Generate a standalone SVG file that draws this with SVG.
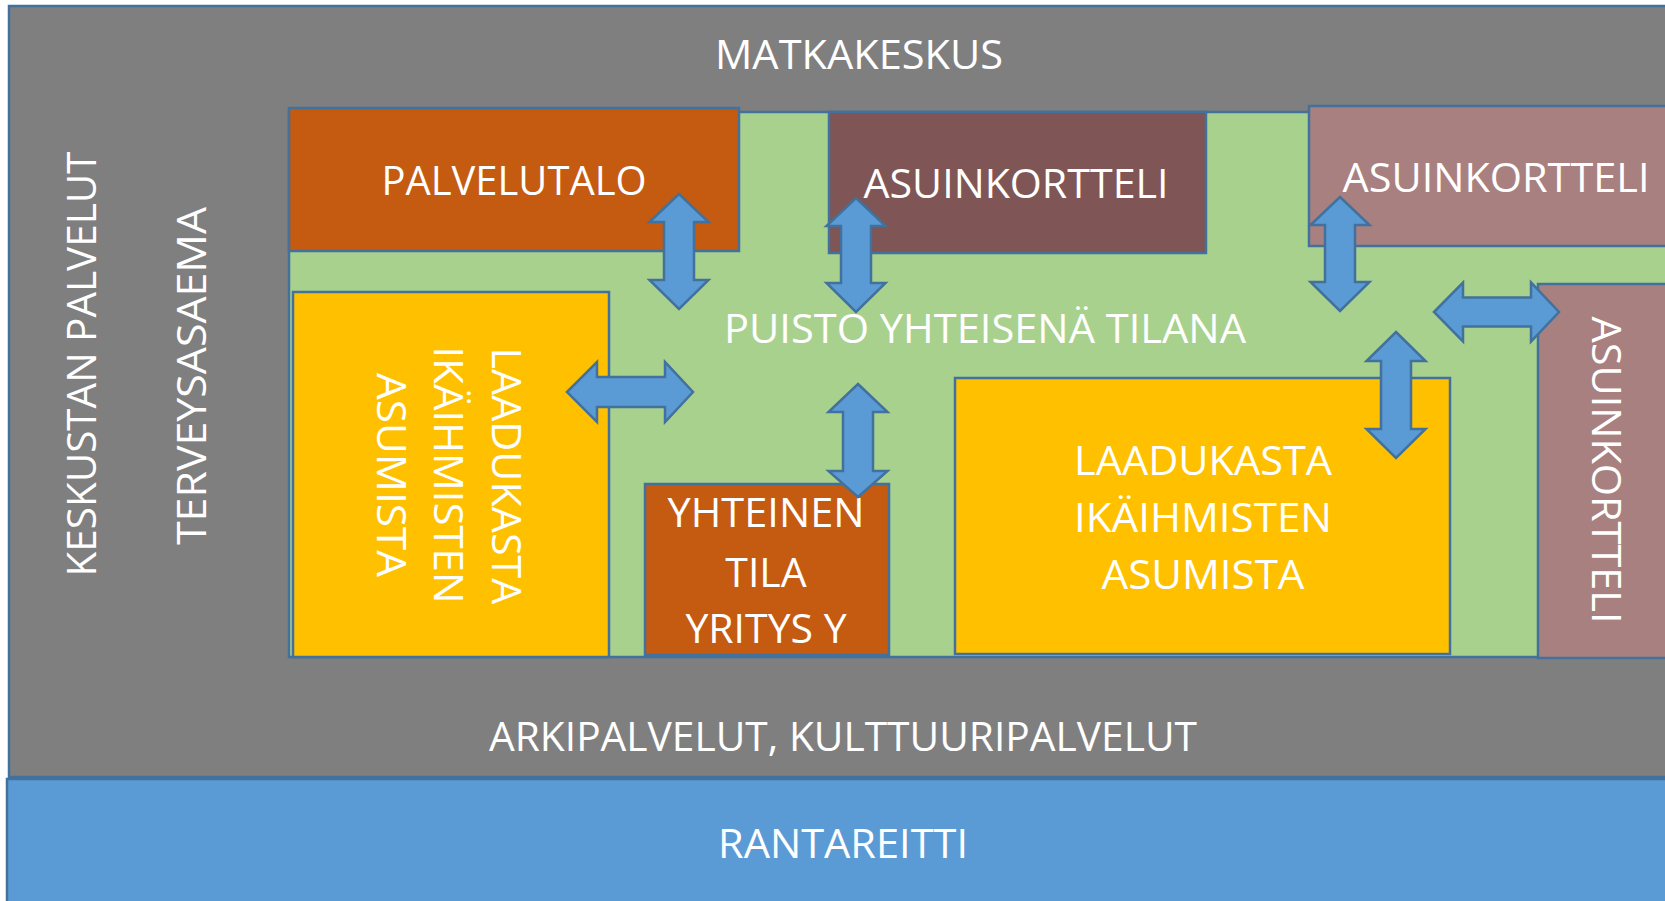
<svg xmlns="http://www.w3.org/2000/svg" width="1665" height="901" viewBox="0 0 1665 901">
<style>
.box{stroke:#41719C;stroke-width:2.5}
.arrow{fill:#5B9BD5;stroke:#41719C;stroke-width:2.5;stroke-linejoin:miter}
.t{font-family:"Open Sans","Noto Sans","DejaVu Sans",sans-serif;font-size:41px;fill:#FFFFFF;text-anchor:middle}
</style>
<rect width="1665" height="901" fill="#FFFFFF"/>
<g id="keskusta">
<rect class="box" x="9" y="6" width="1670" height="771" fill="#7F7F7F"/>
<text class="t" x="859" y="69" textLength="288" lengthAdjust="spacingAndGlyphs">MATKAKESKUS</text>
<text class="t" x="843" y="751" textLength="708" lengthAdjust="spacingAndGlyphs">ARKIPALVELUT, KULTTUURIPALVELUT</text>
<text class="t" transform="translate(96,364) rotate(-90)" textLength="425" lengthAdjust="spacingAndGlyphs">KESKUSTAN PALVELUT</text>
<text class="t" transform="translate(206,376) rotate(-90)" textLength="338" lengthAdjust="spacingAndGlyphs">TERVEYSASAEMA</text>
</g>
<g id="rantareitti">
<rect class="box" x="7" y="779" width="1670" height="130" fill="#5B9BD5"/>
<text class="t" x="843" y="858" textLength="250" lengthAdjust="spacingAndGlyphs">RANTAREITTI</text>
</g>
<g id="puisto">
<rect class="box" x="289" y="112" width="1390" height="545" fill="#A9D18E"/>
<text class="t" x="985" y="343" textLength="522" lengthAdjust="spacingAndGlyphs">PUISTO YHTEISENÄ TILANA</text>
</g>
<g id="palvelutalo">
<rect class="box" x="289" y="108" width="450" height="143" fill="#C55A11"/>
<text class="t" x="514" y="195" textLength="265" lengthAdjust="spacingAndGlyphs">PALVELUTALO</text>
</g>
<g id="asuinkortteli1">
<rect class="box" x="829" y="112" width="377" height="141" fill="#7F5555"/>
<text class="t" x="1016" y="198" textLength="305" lengthAdjust="spacingAndGlyphs">ASUINKORTTELI</text>
</g>
<g id="asuinkortteli2">
<rect class="box" x="1309" y="106" width="370" height="140" fill="#A98080"/>
<text class="t" x="1496" y="192" textLength="307" lengthAdjust="spacingAndGlyphs">ASUINKORTTELI</text>
</g>
<g id="ikaihmiset1">
<rect class="box" x="293" y="292" width="316" height="365" fill="#FFC000"/>
<text class="t" transform="translate(492,476) rotate(90)" textLength="257" lengthAdjust="spacingAndGlyphs">LAADUKASTA</text>
<text class="t" transform="translate(434,475) rotate(90)" textLength="257" lengthAdjust="spacingAndGlyphs">IKÄIHMISTEN</text>
<text class="t" transform="translate(377,475) rotate(90)" textLength="204" lengthAdjust="spacingAndGlyphs">ASUMISTA</text>
</g>
<g id="yhteinen-tila">
<rect class="box" x="645" y="484" width="244" height="171" fill="#C55A11"/>
<text class="t" x="766" y="527" textLength="197" lengthAdjust="spacingAndGlyphs">YHTEINEN</text>
<text class="t" x="766" y="587">TILA</text>
<text class="t" x="766" y="643">YRITYS Y</text>
</g>
<g id="ikaihmiset2">
<rect class="box" x="955" y="378" width="495" height="276" fill="#FFC000"/>
<text class="t" x="1203" y="475" textLength="258" lengthAdjust="spacingAndGlyphs">LAADUKASTA</text>
<text class="t" x="1203" y="532" textLength="258" lengthAdjust="spacingAndGlyphs">IKÄIHMISTEN</text>
<text class="t" x="1203" y="589" textLength="203" lengthAdjust="spacingAndGlyphs">ASUMISTA</text>
</g>
<g id="asuinkortteli3">
<rect class="box" x="1538" y="284" width="140" height="374" fill="#A98080"/>
<text class="t" transform="translate(1592,470) rotate(90)" textLength="307" lengthAdjust="spacingAndGlyphs">ASUINKORTTELI</text>
</g>
<g id="connectors">
<polygon class="arrow" points="679,194 708.5,222 694,222 694,280 708.5,280 679,309 649.5,280 664,280 664,222 649.5,222"/>
<polygon class="arrow" points="856,198 885.5,226 871,226 871,283 885.5,283 856,312 826.5,283 841,283 841,226 826.5,226"/>
<polygon class="arrow" points="1340,197 1369.5,225 1355,225 1355,282 1369.5,282 1340,311 1310.5,282 1325,282 1325,225 1310.5,225"/>
<polygon class="arrow" points="858,384 887.5,412 873,412 873,471 887.5,471 858,497 828.5,471 843,471 843,412 828.5,412"/>
<polygon class="arrow" points="1396,332 1425.5,361 1411,361 1411,429 1425.5,429 1396,458 1366.5,429 1381,429 1381,361 1366.5,361"/>
<polygon class="arrow" points="567,392 597,362 597,377 665,377 665,362 693,392 665,422 665,407 597,407 597,422"/>
<polygon class="arrow" points="1434,312 1463,282.5 1463,297.5 1531,297.5 1531,282.5 1559,312 1531,341.5 1531,326.5 1463,326.5 1463,341.5"/>
</g>
</svg>
